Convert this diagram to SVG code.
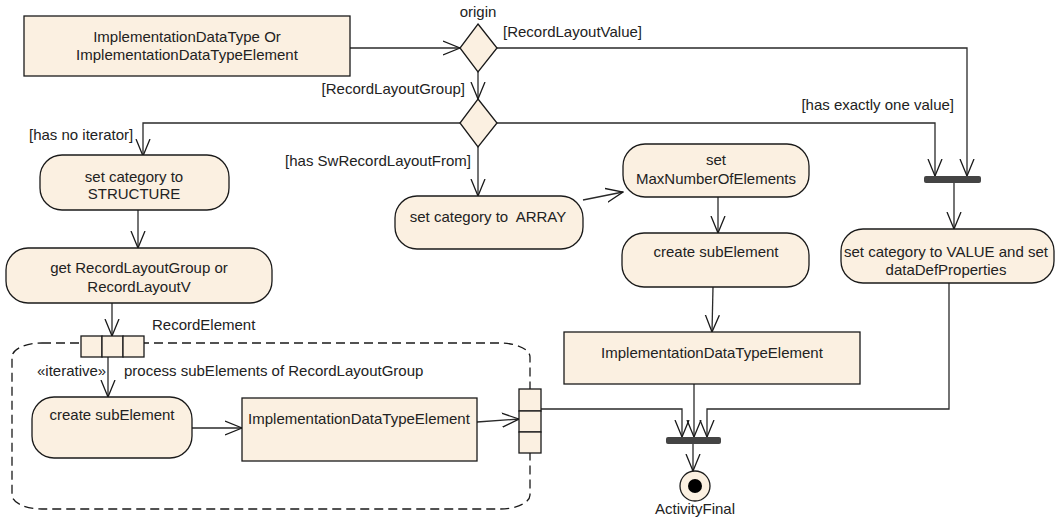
<svg xmlns="http://www.w3.org/2000/svg" width="1056" height="518" viewBox="0 0 1056 518">
<style>
.n{fill:#FBF0E1;stroke:#1a1a1a;stroke-width:1.3}
.t{font-family:"Liberation Sans",Arial,sans-serif;font-size:15px;fill:#222}
.m{text-anchor:middle}
.e{text-anchor:end}
.c{fill:none;stroke:#2a2a2a;stroke-width:1.3}
.bar{fill:#444;stroke:none}
</style>
<defs>
<marker id="a" viewBox="0 0 18 16" refX="17" refY="8" markerWidth="18" markerHeight="16" orient="auto" markerUnits="userSpaceOnUse">
<path d="M0,1 L17,8 L0,15" fill="none" stroke="#1a1a1a" stroke-width="1.3"/>
</marker>
</defs>
<rect width="1056" height="518" fill="#fff"/>

<g id="region">
<rect x="12" y="343" width="518" height="166" rx="30" ry="14" fill="none" stroke="#1a1a1a" stroke-width="1.3" stroke-dasharray="9,5"/>
<text class="t" x="37" y="376">«iterative»</text>
<text class="t" x="124" y="376">process subElements of RecordLayoutGroup</text>
</g>

<g id="connectors">
<path class="c" d="M350,48 L460,48" marker-end="url(#a)"/>
<path class="c" d="M478,72 L478,99" marker-end="url(#a)"/>
<path class="c" d="M497,48 L967,48 L967,176" marker-end="url(#a)"/>
<path class="c" d="M460,123 L143,123 L143,156" marker-end="url(#a)"/>
<path class="c" d="M497,123 L935,123 L935,176" marker-end="url(#a)"/>
<path class="c" d="M478,147 L478,196" marker-end="url(#a)"/>
<path class="c" d="M138,210 L138,248" marker-end="url(#a)"/>
<path class="c" d="M112,303 L112,336" marker-end="url(#a)"/>
<path class="c" d="M108,357 L108,397" marker-end="url(#a)"/>
<path class="c" d="M192,428 L242,428" marker-end="url(#a)"/>
<path class="c" d="M477,422 L519,419" marker-end="url(#a)"/>
<path class="c" d="M541,409 L682,409 L682,437" marker-end="url(#a)"/>
<path class="c" d="M583,200 L623,192" marker-end="url(#a)"/>
<path class="c" d="M718,197 L718,233" marker-end="url(#a)"/>
<path class="c" d="M713,287 L712,332" marker-end="url(#a)"/>
<path class="c" d="M694,384 L694,437" marker-end="url(#a)"/>
<path class="c" d="M949,283 L949,409 L707,409 L707,437" marker-end="url(#a)"/>
<path class="c" d="M954,183 L954,229" marker-end="url(#a)"/>
<path class="c" d="M693,444 L693,471" marker-end="url(#a)"/>
<text class="t" x="503" y="37">[RecordLayoutValue]</text>
<text class="t e" x="465" y="94">[RecordLayoutGroup]</text>
<text class="t" x="29" y="140">[has no iterator]</text>
<text class="t e" x="954" y="110">[has exactly one value]</text>
<text class="t e" x="471" y="166">[has SwRecordLayoutFrom]</text>
</g>

<g id="start">
<rect class="n" x="24" y="16" width="326" height="60"/>
<text class="t m" x="187" y="42">ImplementationDataType Or</text>
<text class="t m" x="187" y="60">ImplementationDataTypeElement</text>
</g>

<g id="origin">
<path class="n" d="M478,24 L497,48 L478,72 L460,48 Z"/>
<text class="t m" x="478" y="17">origin</text>
</g>

<g id="decision2">
<path class="n" d="M478,99 L497,123 L478,147 L460,123 Z"/>
</g>

<g id="structure">
<rect class="n" x="40" y="155" width="189" height="55" rx="22"/>
<text class="t m" x="134" y="182">set category to</text>
<text class="t m" x="134" y="199">STRUCTURE</text>
</g>

<g id="getRecord">
<rect class="n" x="6" y="248" width="266" height="55" rx="22"/>
<text class="t m" x="139" y="273">get RecordLayoutGroup or</text>
<text class="t m" x="139" y="292">RecordLayoutV</text>
</g>

<g id="pinIn">
<rect class="n" x="81" y="336" width="21" height="21"/>
<rect class="n" x="102" y="336" width="21" height="21"/>
<rect class="n" x="123" y="336" width="21" height="21"/>
<text class="t" x="152" y="330">RecordElement</text>
</g>

<g id="createSub1">
<rect class="n" x="32" y="397" width="160" height="61" rx="22"/>
<text class="t m" x="112" y="420">create subElement</text>
</g>

<g id="implElem1">
<rect class="n" x="242" y="398" width="235" height="63"/>
<text class="t m" x="359" y="424">ImplementationDataTypeElement</text>
</g>

<g id="pinOut">
<rect class="n" x="519" y="389" width="22" height="22"/>
<rect class="n" x="519" y="411" width="22" height="21"/>
<rect class="n" x="519" y="432" width="22" height="21"/>
</g>

<g id="array">
<rect class="n" x="395" y="196" width="188" height="53" rx="22"/>
<text class="t m" x="488" y="222" xml:space="preserve">set category to  ARRAY</text>
</g>

<g id="maxNum">
<rect class="n" x="623" y="144" width="186" height="53" rx="22"/>
<text class="t m" x="716" y="165">set</text>
<text class="t m" x="716" y="184">MaxNumberOfElements</text>
</g>

<g id="createSub2">
<rect class="n" x="622" y="233" width="187" height="54" rx="22"/>
<text class="t m" x="716" y="257">create subElement</text>
</g>

<g id="implElem2">
<rect class="n" x="564" y="332" width="296" height="52"/>
<text class="t m" x="712" y="358">ImplementationDataTypeElement</text>
</g>

<g id="fork">
<rect class="bar" x="924" y="176" width="57" height="7" rx="2"/>
</g>

<g id="value">
<rect class="n" x="841" y="229" width="213" height="54" rx="22"/>
<text class="t m" x="946" y="257">set category to VALUE and set</text>
<text class="t m" x="946" y="275">dataDefProperties</text>
</g>

<g id="join">
<rect class="bar" x="666" y="437" width="55" height="7" rx="2"/>
</g>

<g id="final">
<circle class="n" cx="695" cy="486" r="15"/>
<circle cx="695" cy="486" r="7" fill="#000"/>
<text class="t m" x="695" y="514">ActivityFinal</text>
</g>
</svg>
